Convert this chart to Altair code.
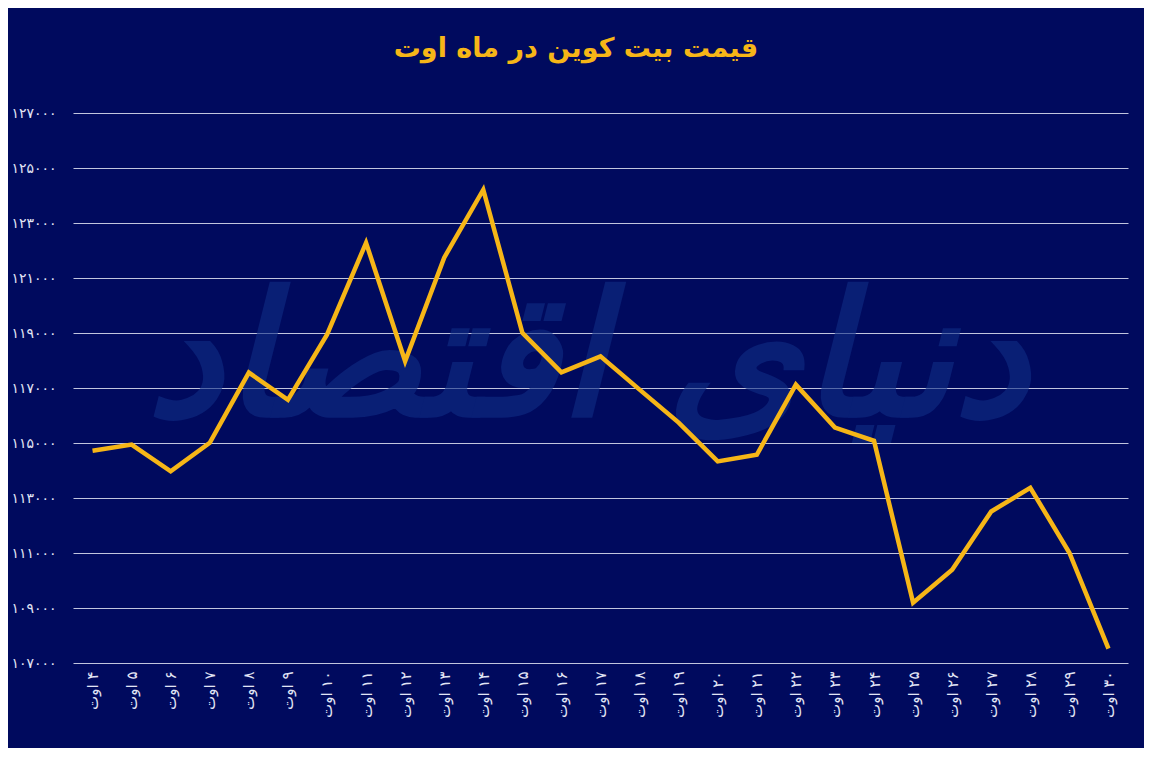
import altair as alt
import pandas as pd

days = ["۴", "۵", "۶", "۷", "۸", "۹", "۱۰", "۱۱", "۱۲", "۱۳", "۱۴", "۱۵", "۱۶", "۱۷",
        "۱۸", "۱۹", "۲۰", "۲۱", "۲۲", "۲۳", "۲۴", "۲۵", "۲۶", "۲۷", "۲۸", "۲۹", "۳۰"]
labels = ["\u202b" + d + " اوت" + "\u202c" for d in days]
prices = [114720, 114940, 113970, 115010, 117560, 116570, 118940, 122280, 117970,
          121740, 124210, 119010, 117570, 118150, 116940, 115740, 114330, 114570,
          117120, 115560, 115080, 109190, 110390, 112510, 113370, 111010, 107520]
y_ticks = [107000, 109000, 111000, 113000, 115000, 117000, 119000, 121000, 123000, 125000, 127000]
title_text = "قیمت بیت کوین در ماه اوت"
watermark_text = "دنیای اقتصاد"

df = pd.DataFrame({"label": labels, "price": prices})

BG = "#000a5e"
GOLD = "#f6b617"
FONT = "DejaVu Sans"

W, H = 1055, 550

fa_expr = "format(datum.value, 'd')"
for i, ch in enumerate("۰۱۲۳۴۵۶۷۸۹"):
    fa_expr = f"replace({fa_expr}, regexp('{i}', 'g'), '{ch}')"

x_enc = alt.X("label:N", sort=labels, scale=alt.Scale(paddingOuter=0.5, paddingInner=0),
              axis=alt.Axis(title=None, labelAngle=-90, labelFontSize=15, labelColor="#e2e5f5",
                            labelFont=FONT, labelPadding=8, ticks=False, domain=False, grid=False))
y_enc = alt.Y("price:Q", scale=alt.Scale(domain=[107000, 127000], nice=False, zero=False),
              axis=alt.Axis(title=None, values=y_ticks, labelExpr=fa_expr, labelFontSize=14,
                            labelColor="#e2e5f5", labelFont=FONT, labelPadding=17, ticks=False,
                            domain=False, grid=True, gridColor="#d6d9ec", gridWidth=1, gridOpacity=0.9))

base = alt.Chart(df)

watermark = alt.Chart(pd.DataFrame({"t": [watermark_text]})).mark_text(
    font=FONT, fontSize=172, fontWeight="bold", fontStyle="italic", color="#0f2d85", opacity=0.6,
    align="center", baseline="middle"
).encode(x=alt.value(515), y=alt.value(250), text="t:N")

line = base.mark_line(color=GOLD, strokeWidth=4.5, strokeJoin="miter").encode(x=x_enc, y=y_enc)

title = alt.Chart(pd.DataFrame({"t": [title_text]})).mark_text(
    font=FONT, fontSize=27, fontWeight="bold", color=GOLD, align="center", baseline="middle"
).encode(x=alt.value(503), y=alt.value(-64), text="t:N")

chart = alt.layer(watermark, line, title).properties(
    width=W, height=H, background=BG,
    padding={"left": 65, "top": 105, "right": 16, "bottom": 85},
    autosize=alt.AutoSizeParams(type="none")
).configure_view(stroke=None)

chart.save("out.html", embed_options={"renderer": "svg", "actions": False})
